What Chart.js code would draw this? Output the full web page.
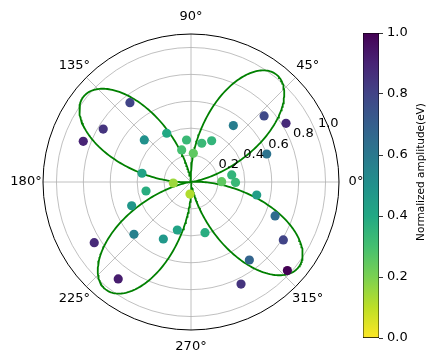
<!DOCTYPE html>
<html>
<head>
<meta charset="utf-8">
<script src="https://cdn.jsdelivr.net/npm/chart.js@4.4.1/dist/chart.umd.min.js"></script>
<style>
  html, body { margin: 0; padding: 0; background: #fff; }
  #wrap { position: relative; width: 427px; height: 355px; overflow: hidden; }
  #polar { position: absolute; left: 0; top: 0; }
  #cbar { position: absolute; left: 350px; top: 0; }
</style>
</head>
<body>
<div id="wrap">
  <canvas id="polar" width="427" height="355" style="width:427px;height:355px"></canvas>
  <canvas id="cbar" width="77" height="355" style="width:77px;height:355px"></canvas>
</div>
<script>
// Polar axis ticks
const angleTicksDeg = [0, 45, 90, 135, 180, 225, 270, 315];
const radialTicks = [0.2, 0.4, 0.6, 0.8, 1.0];
const radialMax = 1.1;
const colorbarTicks = [0.0, 0.2, 0.4, 0.6, 0.8, 1.0];

// Measured points: angle (deg), radius, normalized amplitude
const pointThetaDeg = [127.6, 148.9, 159.3, 138.0, 116.5, 96.1, 106.2, 169.9,
  74.5, 63.4, 85.4, 42.1, 31.7, 53.1, 20.3, 0.6, 9.8, 359.4, 183.2, 265.2,
  191.3, 201.8, 222.5, 244.1, 254.1, 212.1, 233.1, 348.8, 285.4, 338.0,
  327.9, 306.8, 317.4, 296.1];
const pointRadius = [0.744, 0.762, 0.856, 0.467, 0.405, 0.314, 0.248, 0.370,
  0.299, 0.343, 0.214, 0.732, 0.830, 0.524, 0.600, 0.228, 0.307, 0.331, 0.132, 0.090,
  0.341, 0.475, 0.575, 0.471, 0.371, 0.849, 0.901, 0.498, 0.391, 0.674,
  0.810, 0.724, 0.973, 0.845];
const pointAmplitude = [0.80, 0.85, 0.90, 0.50, 0.40, 0.33, 0.30, 0.42,
  0.33, 0.35, 0.25, 0.78, 0.88, 0.58, 0.62, 0.25, 0.35, 0.33, 0.15, 0.12,
  0.38, 0.48, 0.57, 0.47, 0.42, 0.88, 0.92, 0.45, 0.38, 0.65,
  0.80, 0.68, 1.00, 0.85];

// Four-lobe fit: r = amp * |cos(2(theta - phase))|^exponent
const petalAmp = 1.02;
const petalPhaseDeg = 51.5;
const petalExponent = 1.65;

const FONT = "'DejaVu Sans', 'Liberation Sans', sans-serif";

// viridis colormap
const viridisStops = ['#440154', '#482475', '#414487', '#355f8d', '#2a788e',
  '#21918c', '#22a884', '#44bf70', '#7ad151', '#bddf26', '#fde725'];
function hexToRgb(h) {
  return [parseInt(h.slice(1, 3), 16), parseInt(h.slice(3, 5), 16), parseInt(h.slice(5, 7), 16)];
}
function viridis(t) {
  t = Math.max(0, Math.min(1, t));
  const n = viridisStops.length - 1;
  const i = Math.min(n - 1, Math.floor(t * n));
  const f = t * n - i;
  const a = hexToRgb(viridisStops[i]), b = hexToRgb(viridisStops[i + 1]);
  const c = a.map((v, k) => Math.round(v + (b[k] - v) * f));
  return `rgb(${c[0]},${c[1]},${c[2]})`;
}
// reversed: 1.0 -> dark purple, 0.0 -> yellow
const ampColor = v => viridis(1 - v);

const deg2rad = d => d * Math.PI / 180;

const scatterPoints = pointThetaDeg.map((d, i) => ({
  x: pointRadius[i] * Math.cos(deg2rad(d)),
  y: pointRadius[i] * Math.sin(deg2rad(d))
}));
const scatterColors = pointAmplitude.map(ampColor);

const petalCurve = [];
for (let d = 0; d <= 360; d += 0.5) {
  const r = petalAmp * Math.pow(Math.abs(Math.cos(2 * deg2rad(d - petalPhaseDeg))), petalExponent);
  petalCurve.push({ x: r * Math.cos(deg2rad(d)), y: r * Math.sin(deg2rad(d)) });
}

// Polar frame: rings, spokes, outer circle and labels
const polarFrame = {
  id: 'polarFrame',
  beforeDatasetsDraw(chart) {
    const { ctx, scales: { x, y } } = chart;
    const cx = x.getPixelForValue(0), cy = y.getPixelForValue(0);
    const unit = x.getPixelForValue(1) - cx;
    const R = radialMax * unit;
    ctx.save();
    ctx.strokeStyle = '#b0b0b0';
    ctx.lineWidth = 0.8;
    radialTicks.forEach(v => {
      ctx.beginPath();
      ctx.arc(cx, cy, v * unit, 0, Math.PI * 2);
      ctx.stroke();
    });
    angleTicksDeg.forEach(d => {
      ctx.beginPath();
      ctx.moveTo(cx, cy);
      ctx.lineTo(cx + R * Math.cos(deg2rad(d)), cy - R * Math.sin(deg2rad(d)));
      ctx.stroke();
    });
    ctx.restore();
  },
  afterDraw(chart) {
    const { ctx, scales: { x, y } } = chart;
    const cx = x.getPixelForValue(0), cy = y.getPixelForValue(0);
    const unit = x.getPixelForValue(1) - cx;
    const R = radialMax * unit;
    ctx.save();
    ctx.strokeStyle = '#000';
    ctx.lineWidth = 1;
    ctx.beginPath();
    ctx.arc(cx, cy, R, 0, Math.PI * 2);
    ctx.stroke();

    ctx.fillStyle = '#000';
    ctx.font = `13px ${FONT}`;
    ctx.textAlign = 'center';
    ctx.textBaseline = 'middle';
    angleTicksDeg.forEach(d => {
      const rr = R + 17;
      ctx.fillText(d + '°', cx + rr * Math.cos(deg2rad(d)), cy - rr * Math.sin(deg2rad(d)));
    });
    const labelAngle = deg2rad(22.5);
    radialTicks.forEach(v => {
      const rr = v * unit + 14;
      ctx.fillText(v.toFixed(1), cx + rr * Math.cos(labelAngle), cy - rr * Math.sin(labelAngle) - 1.5);
    });
    ctx.restore();
  }
};

new Chart(document.getElementById('polar'), {
  type: 'scatter',
  data: {
    datasets: [
      {
        data: scatterPoints,
        pointBackgroundColor: scatterColors,
        pointBorderWidth: 0,
        pointRadius: 4.6,
        order: 0
      },
      {
        data: petalCurve,
        showLine: true,
        borderColor: '#008000',
        borderWidth: 1.8,
        pointRadius: 0,
        fill: false,
        tension: 0,
        order: 1
      }
    ]
  },
  options: {
    responsive: false,
    animation: false,
    events: [],
    layout: { padding: { left: 43, right: 88, top: 34, bottom: 25 } },
    scales: {
      x: { type: 'linear', min: -radialMax, max: radialMax, display: false },
      y: { type: 'linear', min: -radialMax, max: radialMax, display: false }
    },
    plugins: { legend: { display: false }, tooltip: { enabled: false } }
  },
  plugins: [polarFrame]
});

// Colorbar
const colorbarTitle = {
  id: 'colorbarTitle',
  afterDraw(chart) {
    const ctx = chart.ctx;
    ctx.save();
    ctx.translate(71, 172);
    ctx.rotate(-Math.PI / 2);
    ctx.fillStyle = '#000';
    ctx.font = `10.5px ${FONT}`;
    ctx.textAlign = 'center';
    ctx.textBaseline = 'middle';
    ctx.fillText('Normalized amplitude(eV)', 0, 0);
    ctx.restore();
  }
};

new Chart(document.getElementById('cbar'), {
  type: 'bar',
  data: {
    labels: [''],
    datasets: [{
      data: [[colorbarTicks[0], colorbarTicks[colorbarTicks.length - 1]]],
      backgroundColor(context) {
        const a = context.chart.chartArea;
        if (!a) return null;
        const g = context.chart.ctx.createLinearGradient(0, a.bottom, 0, a.top);
        for (let i = 0; i <= 20; i++) g.addColorStop(i / 20, ampColor(i / 20));
        return g;
      },
      borderColor: '#000',
      borderWidth: 0.8,
      borderSkipped: false,
      barPercentage: 1,
      categoryPercentage: 1
    }]
  },
  options: {
    responsive: false,
    animation: false,
    events: [],
    layout: { padding: { left: 13, right: 0, top: 33, bottom: 17 } },
    scales: {
      x: { display: false },
      y: {
        position: 'right',
        min: 0,
        max: 1,
        afterFit(scale) { scale.width = 48; },
        afterBuildTicks(scale) { scale.ticks = colorbarTicks.map(v => ({ value: v })); },
        ticks: {
          callback: v => Number(v).toFixed(1),
          font: { family: FONT, size: 13 },
          color: '#000',
          padding: 4
        },
        grid: { drawOnChartArea: false, drawTicks: true, tickLength: 4, color: '#000', lineWidth: 0.8 },
        border: { display: false }
      }
    },
    plugins: { legend: { display: false }, tooltip: { enabled: false } }
  },
  plugins: [colorbarTitle]
});
</script>
</body>
</html>
